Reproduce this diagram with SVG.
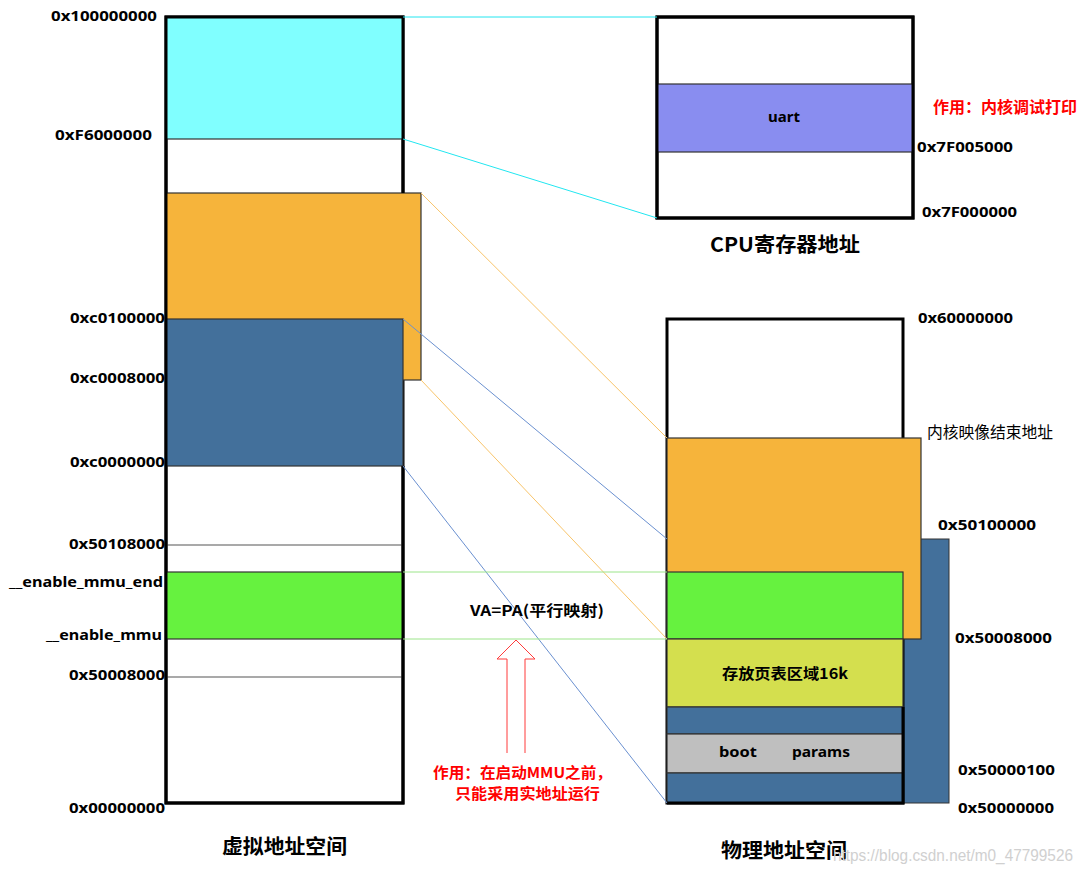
<svg xmlns="http://www.w3.org/2000/svg" width="1087" height="874" viewBox="0 0 1087 874">
<style>
.lbl{font-family:"Noto Sans","Noto Sans CJK SC",sans-serif;font-weight:bold;font-size:15px;fill:#000}
.cjk{font-family:"Noto Sans CJK SC","Noto Sans",sans-serif;font-weight:bold;fill:#000}
.red{font-family:"Noto Sans CJK SC","Noto Sans",sans-serif;font-weight:bold;font-size:15px;fill:#ff0000}
.box{fill:#fff;stroke:#000;stroke-width:3}
.band{stroke:#333;stroke-width:1.2}
.conn{fill:none;stroke-width:1}
</style>
<rect width="1087" height="874" fill="#fff"/>

<!-- Virtual address space -->
<g id="virtual-space">
  <rect class="box" x="166" y="17" width="237" height="786"/>
  <rect class="band" x="166" y="17" width="237" height="122" fill="#80ffff"/>
  <rect class="band" x="166" y="193" width="255" height="187" fill="#f6b43b"/>
  <rect class="band" x="166" y="319" width="237" height="147" fill="#43709b"/>
  <line x1="166" y1="545" x2="403" y2="545" stroke="#555" stroke-width="1.2"/>
  <rect class="band" x="166" y="572" width="237" height="67" fill="#66f23f"/>
  <line x1="166" y1="677" x2="403" y2="677" stroke="#555" stroke-width="1.2"/>
  <path d="M403 193 V17 H166 V803 H403 V466" fill="none" stroke="#000" stroke-width="3"/>
</g>

<!-- CPU register address -->
<g id="cpu-space">
  <rect class="box" x="657" y="17" width="256" height="201"/>
  <rect class="band" x="657" y="84" width="256" height="68" fill="#898df0" stroke="#555"/>
  <rect x="657" y="17" width="256" height="201" fill="none" stroke="#000" stroke-width="3"/>
  <text class="lbl" x="784" y="122" text-anchor="middle">uart</text>
</g>

<!-- Physical address space -->
<g id="physical-space">
  <rect x="667" y="539" width="282" height="264" fill="#43709b" stroke="#333" stroke-width="1"/>
  <rect class="box" x="667" y="319" width="236" height="484"/>
  <rect class="band" x="667" y="438" width="254" height="201" fill="#f6b43b"/>
  <rect class="band" x="667" y="572" width="236" height="67" fill="#66f23f"/>
  <rect class="band" x="667" y="639" width="236" height="68" fill="#d4df4e"/>
  <rect class="band" x="667" y="707" width="236" height="27" fill="#43709b"/>
  <rect class="band" x="667" y="734" width="236" height="39" fill="#bfbfbf"/>
  <rect class="band" x="667" y="773" width="236" height="30" fill="#43709b"/>
  <path d="M903 707 V803 H667" fill="none" stroke="#000" stroke-width="3"/>
  <text class="cjk" x="722" y="679" font-size="15" textLength="126" lengthAdjust="spacingAndGlyphs">存放页表区域16k</text>
  <text class="lbl" x="719" y="757" textLength="38" lengthAdjust="spacingAndGlyphs">boot</text>
  <text class="lbl" x="792" y="757" textLength="58" lengthAdjust="spacingAndGlyphs">params</text>
</g>

<!-- Connectors -->
<g id="connectors">
  <line class="conn" x1="403" y1="17" x2="657" y2="17" stroke="#22e6f0"/>
  <line class="conn" x1="403" y1="139" x2="657" y2="218" stroke="#22e6f0"/>
  <line class="conn" x1="421" y1="193" x2="667" y2="438" stroke="#f8c46a"/>
  <line class="conn" x1="421" y1="380" x2="667" y2="639" stroke="#f8c46a"/>
  <line class="conn" x1="403" y1="319" x2="667" y2="539" stroke="#6a90d0"/>
  <line class="conn" x1="403" y1="466" x2="667" y2="803" stroke="#6a90d0"/>
  <line class="conn" x1="403" y1="572" x2="667" y2="572" stroke="#9ce58a"/>
  <line class="conn" x1="403" y1="639" x2="667" y2="639" stroke="#9ce58a"/>
</g>

<!-- Hollow up arrow -->
<g id="mmu-arrow">
  <path d="M507 753 V659 H497 L516 640 L535 659 H525 V753" fill="#fff" stroke="#ff3b3b" stroke-width="1"/>
</g>

<!-- Labels -->
<g id="labels">
  <text class="lbl" x="157" y="21" text-anchor="end" textLength="106" lengthAdjust="spacingAndGlyphs">0x100000000</text>
  <text class="lbl" x="152" y="140" text-anchor="end" textLength="97" lengthAdjust="spacingAndGlyphs">0xF6000000</text>
  <text class="lbl" x="165" y="323" text-anchor="end" textLength="95" lengthAdjust="spacingAndGlyphs">0xc0100000</text>
  <text class="lbl" x="165" y="383" text-anchor="end" textLength="95" lengthAdjust="spacingAndGlyphs">0xc0008000</text>
  <text class="lbl" x="165" y="467" text-anchor="end" textLength="95" lengthAdjust="spacingAndGlyphs">0xc0000000</text>
  <text class="lbl" x="165" y="549" text-anchor="end" textLength="96" lengthAdjust="spacingAndGlyphs">0x50108000</text>
  <text class="lbl" x="163" y="587" text-anchor="end" textLength="154" lengthAdjust="spacingAndGlyphs">__enable_mmu_end</text>
  <text class="lbl" x="162" y="640" text-anchor="end" textLength="116" lengthAdjust="spacingAndGlyphs">__enable_mmu</text>
  <text class="lbl" x="165" y="680" text-anchor="end" textLength="96" lengthAdjust="spacingAndGlyphs">0x50008000</text>
  <text class="lbl" x="165" y="813" text-anchor="end" textLength="96" lengthAdjust="spacingAndGlyphs">0x00000000</text>

  <text class="lbl" x="917" y="152" textLength="96" lengthAdjust="spacingAndGlyphs">0x7F005000</text>
  <text class="lbl" x="922" y="217" textLength="95" lengthAdjust="spacingAndGlyphs">0x7F000000</text>
  <text class="lbl" x="918" y="323" textLength="95" lengthAdjust="spacingAndGlyphs">0x60000000</text>
  <text class="lbl" x="938" y="530" textLength="98" lengthAdjust="spacingAndGlyphs">0x50100000</text>
  <text class="lbl" x="955" y="643" textLength="97" lengthAdjust="spacingAndGlyphs">0x50008000</text>
  <text class="lbl" x="958" y="775" textLength="97" lengthAdjust="spacingAndGlyphs">0x50000100</text>
  <text class="lbl" x="958" y="813" textLength="96" lengthAdjust="spacingAndGlyphs">0x50000000</text>

  <text class="cjk" x="927" y="438" font-size="16" style="font-weight:normal" textLength="126" lengthAdjust="spacingAndGlyphs">内核映像结束地址</text>
  <text class="red" x="933" y="113" font-size="16" style="font-size:16px" textLength="144" lengthAdjust="spacingAndGlyphs">作用：内核调试打印</text>
  <text class="cjk" x="710" y="252" font-size="20" textLength="150" lengthAdjust="spacingAndGlyphs">CPU寄存器地址</text>
  <text class="cjk" x="222" y="854" font-size="20" textLength="125" lengthAdjust="spacingAndGlyphs">虚拟地址空间</text>
  <text class="cjk" x="721" y="858" font-size="20" textLength="126" lengthAdjust="spacingAndGlyphs">物理地址空间</text>
  <text class="cjk" x="470" y="616" font-size="15" textLength="134" lengthAdjust="spacingAndGlyphs">VA=PA(平行映射)</text>
  <text class="red" x="433" y="778" textLength="179" lengthAdjust="spacingAndGlyphs">作用：在启动MMU之前，</text>
  <text class="red" x="455" y="799" textLength="145" lengthAdjust="spacingAndGlyphs">只能采用实地址运行</text>
  <text x="833" y="861" font-family="Liberation Sans, Arial, sans-serif" font-size="17" fill="#d0d0d0" textLength="240" lengthAdjust="spacingAndGlyphs">https://blog.csdn.net/m0_47799526</text>
</g>
</svg>
